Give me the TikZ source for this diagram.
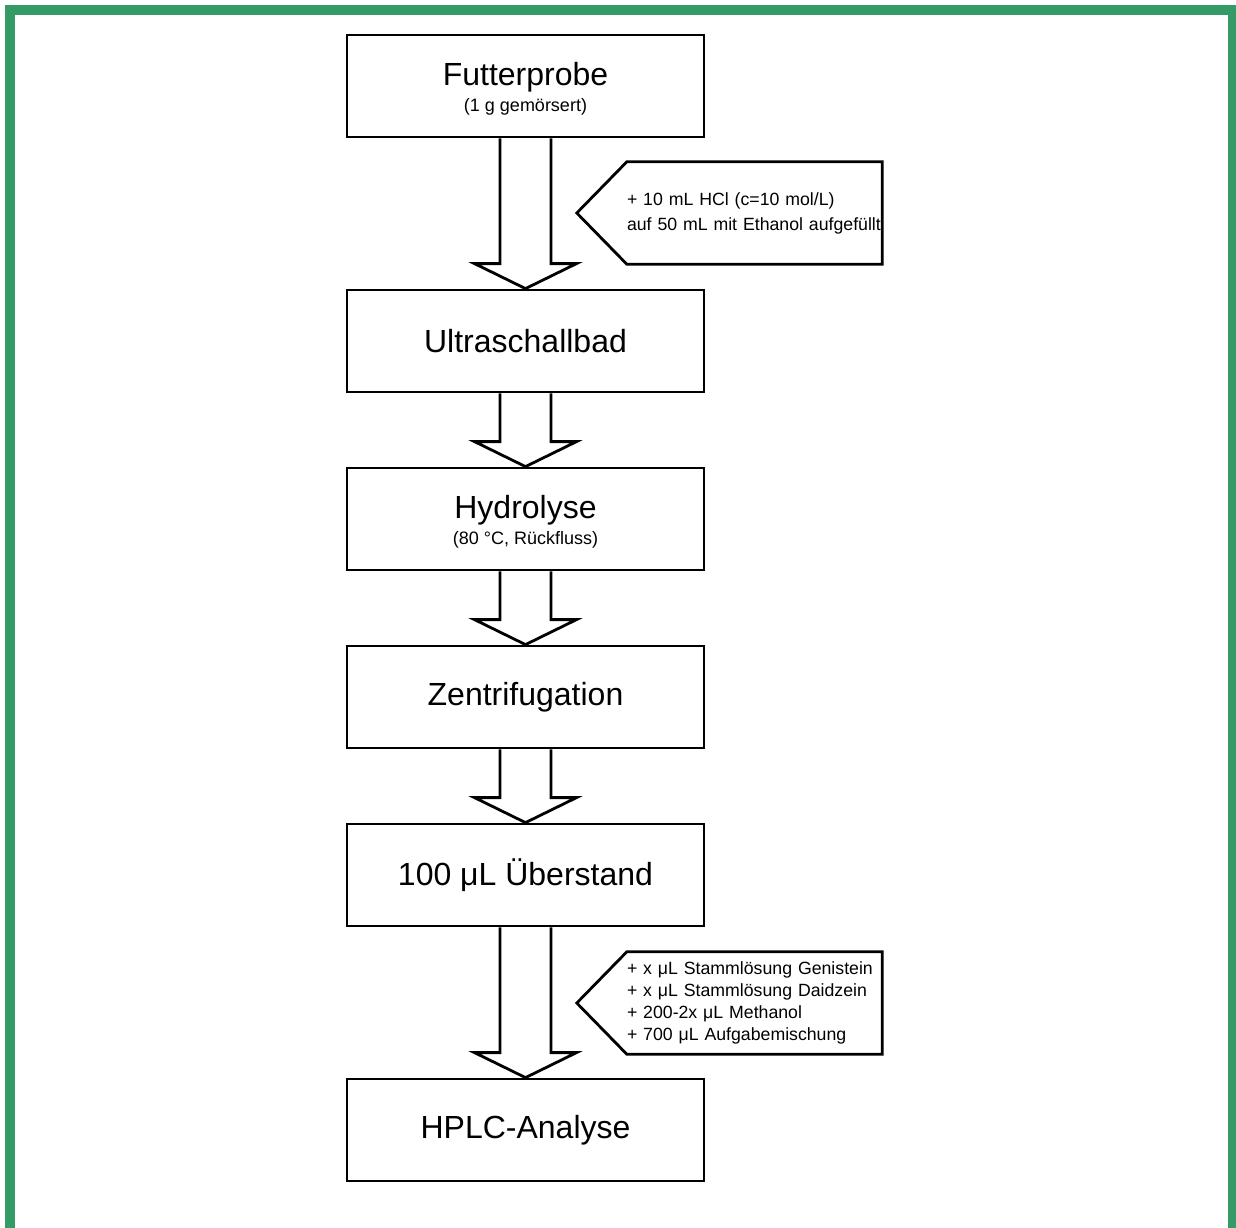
\documentclass[tikz,border=0pt]{standalone}
\usepackage{fontspec}
\setmainfont{Liberation Sans}
\usetikzlibrary{calc}

\definecolor{framegreen}{RGB}{52,155,103}
\newcommand{\bigtxt}{\fontsize{32}{34}\selectfont}
\newcommand{\smalltxt}{\fontsize{18}{22}\selectfont}
\newcommand{\toprow}{\rule{0pt}{28pt}}

% block arrow from one step box down to the next
\newcommand{\blockarrow}[2]{%
  \draw[flowline] ($(#1.south)+(-25.5,0)$) -- ($(#2.north)+(-25.5,-25)$)
    -- ($(#2.north)+(-51,-25)$) -- (#2.north) -- ($(#2.north)+(51,-25)$)
    -- ($(#2.north)+(25.5,-25)$) -- ($(#1.south)+(25.5,0)$);}

% pointed label box on the right of an arrow
\newcommand{\addoutline}[1]{%
  \draw[flowline] (#1.north west) -- (#1.north east) -- (#1.south east)
    -- (#1.south west) -- ($(#1.west)+(-50,0)$) -- cycle;}

\tikzset{
  flowline/.style={draw, line width=2.8pt, line join=miter},
  stepbox/.style={flowline, minimum width=357, minimum height=102,
    align=center, inner sep=0pt, font=\bigtxt},
  addbox/.style={minimum width=255, minimum height=102, text width=255,
    align=left, inner sep=0pt},
}

\begin{document}
\begin{tikzpicture}[x=1pt,y=-1pt]

  \useasboundingbox (0,0) rectangle (1236,1227);
  \draw[framegreen, line width=10pt, line join=miter]
    (10,1240) -- (10,10) -- (1233,10) -- (1233,1240);

  \begin{scope}[every node/.style={stepbox}]
    \node (probe)  at (525.5,86)   {\toprow Futterprobe\\[-8pt]{\smalltxt (1 g gemörsert)}};
    \node (ultra)  at (525.5,341)  {Ultraschallbad};
    \node (hydro)  at (525.5,519)  {\toprow Hydrolyse\\[-8pt]{\smalltxt (80 °C, Rückfluss)}};
    \node (zentri) at (525.5,697)  {Zentrifugation};
    \node (ueber)  at (525.5,875)  {100 μL Überstand};
    \node (hplc)   at (525.5,1130) {HPLC-Analyse};
  \end{scope}

  \blockarrow{probe}{ultra}
  \blockarrow{ultra}{hydro}
  \blockarrow{hydro}{zentri}
  \blockarrow{zentri}{ueber}
  \blockarrow{ueber}{hplc}

  \node[addbox, font=\fontsize{17.7}{25}\selectfont] (addhcl) at (754.5,213)
    {+ 10 mL HCl (c=10 mol/L)\\\mbox{auf 50 mL mit Ethanol aufgefüllt}};
  \node[addbox, font=\fontsize{17.7}{22}\selectfont] (addstd) at (754.5,1003)
    {+ x μL Stammlösung Genistein\\+ x μL Stammlösung Daidzein\\+ 200-2x μL Methanol\\+ 700 μL Aufgabemischung};
  \addoutline{addhcl}
  \addoutline{addstd}

\end{tikzpicture}
\end{document}
